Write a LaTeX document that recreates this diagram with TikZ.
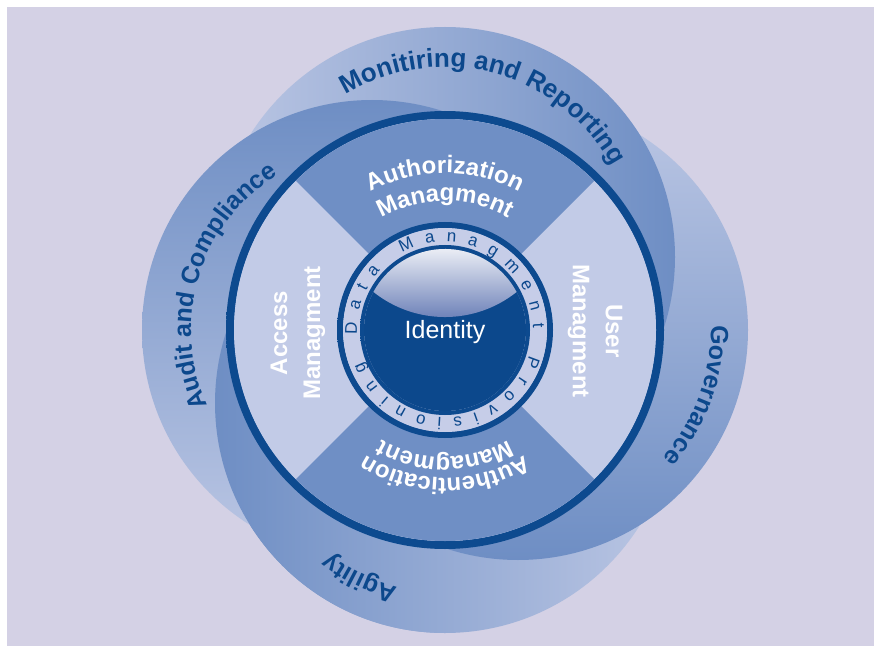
\documentclass[tikz,border=0pt]{standalone}
\usepackage{fontspec}
\setmainfont{Liberation Sans}
\usetikzlibrary{decorations.text}

\definecolor{bgpurple}{RGB}{212,209,229}
\definecolor{navy}{RGB}{12,72,140}
\definecolor{banddark}{RGB}{110,142,196}
\definecolor{bandlight}{RGB}{188,199,228}
\definecolor{sectormid}{RGB}{111,143,197}
\definecolor{sectorlight}{RGB}{194,203,231}
\definecolor{datablue}{RGB}{198,205,232}
\definecolor{ringlight}{RGB}{202,210,238}
\definecolor{ringdark}{RGB}{13,74,143}
\definecolor{glossblue}{RGB}{96,118,178}

\newcommand{\bandfont}{\fontsize{25}{25}\selectfont\bfseries\color{navy}}
\newcommand{\sectorfont}{\fontsize{24}{24}\selectfont\bfseries\color{white}}
\newcommand{\datafont}{\fontsize{17}{17}\selectfont\color{navy}}

\tikzset{
	metalring/.style={even odd rule, left color=ringdark, middle color=ringlight, right color=ringdark},
	arctext/.style={decorate, decoration={text along path, text align=center, text={#1}}},
	fittext/.style={decorate, decoration={text along path, text align=fit to path, text={#1}}},
	sidelabel/.style={align=center, font=\fontsize{24}{33}\selectfont\bfseries, text=white}
}

\begin{document}
\begin{tikzpicture}[x=1pt, y=1pt]

	\fill[white] (0,0) rectangle (874,646);
	\fill[bgpurple] (7,0) rectangle (874,639);

	\coordinate (c) at (445,316);
	\coordinate (mon) at (445,389);
	\coordinate (gov) at (518,316);
	\coordinate (agi) at (445,243);
	\coordinate (aud) at (372,316);

	\shade[left color=banddark, right color=bandlight] (agi) circle (230);
	\shade[top color=bandlight, bottom color=banddark] (gov) circle (230);
	\shade[left color=bandlight, right color=banddark] (mon) circle (230);
	\shade[top color=banddark, bottom color=bandlight] (aud) circle (230);
	\begin{scope}
		\clip (0,0) rectangle (445,316);
		\shade[left color=banddark, right color=bandlight] (agi) circle (230);
	\end{scope}

	\shade[metalring] (c) circle (219) (c) circle (211);
	\fill[sectorlight] (c) circle (211);
	\fill[sectormid] (c) -- ([shift={(45:211)}]c) arc[start angle=45, end angle=135, radius=211] -- cycle;
	\fill[sectormid] (c) -- ([shift={(225:211)}]c) arc[start angle=225, end angle=315, radius=211] -- cycle;

	\shade[metalring] (c) circle (108) (c) circle (102);
	\fill[datablue] (c) circle (102);
	\shade[metalring] (c) circle (85) (c) circle (81);
	\fill[navy] (c) circle (81);
	\shade[top color=white, bottom color=glossblue] ([shift={(28:81)}]c) arc[start angle=28, end angle=152, radius=81] arc[start angle=-128.6, end angle=-51.4, radius=114.7] -- cycle;

	\node[text=white, font=\fontsize{25}{25}\selectfont] (identity) at (445,314) {Identity};
	\path[fittext={|\datafont|Data Managment Provisioning}] ([shift={(183:88)}]c) arc[start angle=183, end angle=-159, radius=88];

	\path[arctext={|\sectorfont|Authorization}] ([shift={(160:157)}]c) arc[start angle=160, end angle=20, radius=157];
	\path[arctext={|\sectorfont|Managment}] ([shift={(160:129)}]c) arc[start angle=160, end angle=20, radius=129];
	\path[arctext={|\sectorfont|Authentication}] ([shift={(-20:148)}]c) arc[start angle=-20, end angle=-160, radius=148];
	\path[arctext={|\sectorfont|Managment}] ([shift={(-20:127)}]c) arc[start angle=-20, end angle=-160, radius=127];
	\node[sidelabel, rotate=90] (access) at (298,313) {Access\\Managment};
	\node[sidelabel, rotate=-90] (user) at (595,315) {User\\Managment};

	\path[arctext={|\fontsize{26}{26}\selectfont\bfseries\color{navy}|Monitiring and Reporting}] ([shift={(146:190)}]mon) arc[start angle=146, end angle=4, radius=190];
	\path[arctext={|\bandfont|Audit and Compliance}] ([shift={(233:181)}]aud) arc[start angle=233, end angle=93, radius=181];
	\path[arctext={|\bandfont|Governance}] ([shift={(50:193)}]gov) arc[start angle=50, end angle=-90, radius=193];
	\path[arctext={|\bandfont|Agility}] ([shift={(-46:190)}]agi) arc[start angle=-46, end angle=-186, radius=190];

\end{tikzpicture}
\end{document}
